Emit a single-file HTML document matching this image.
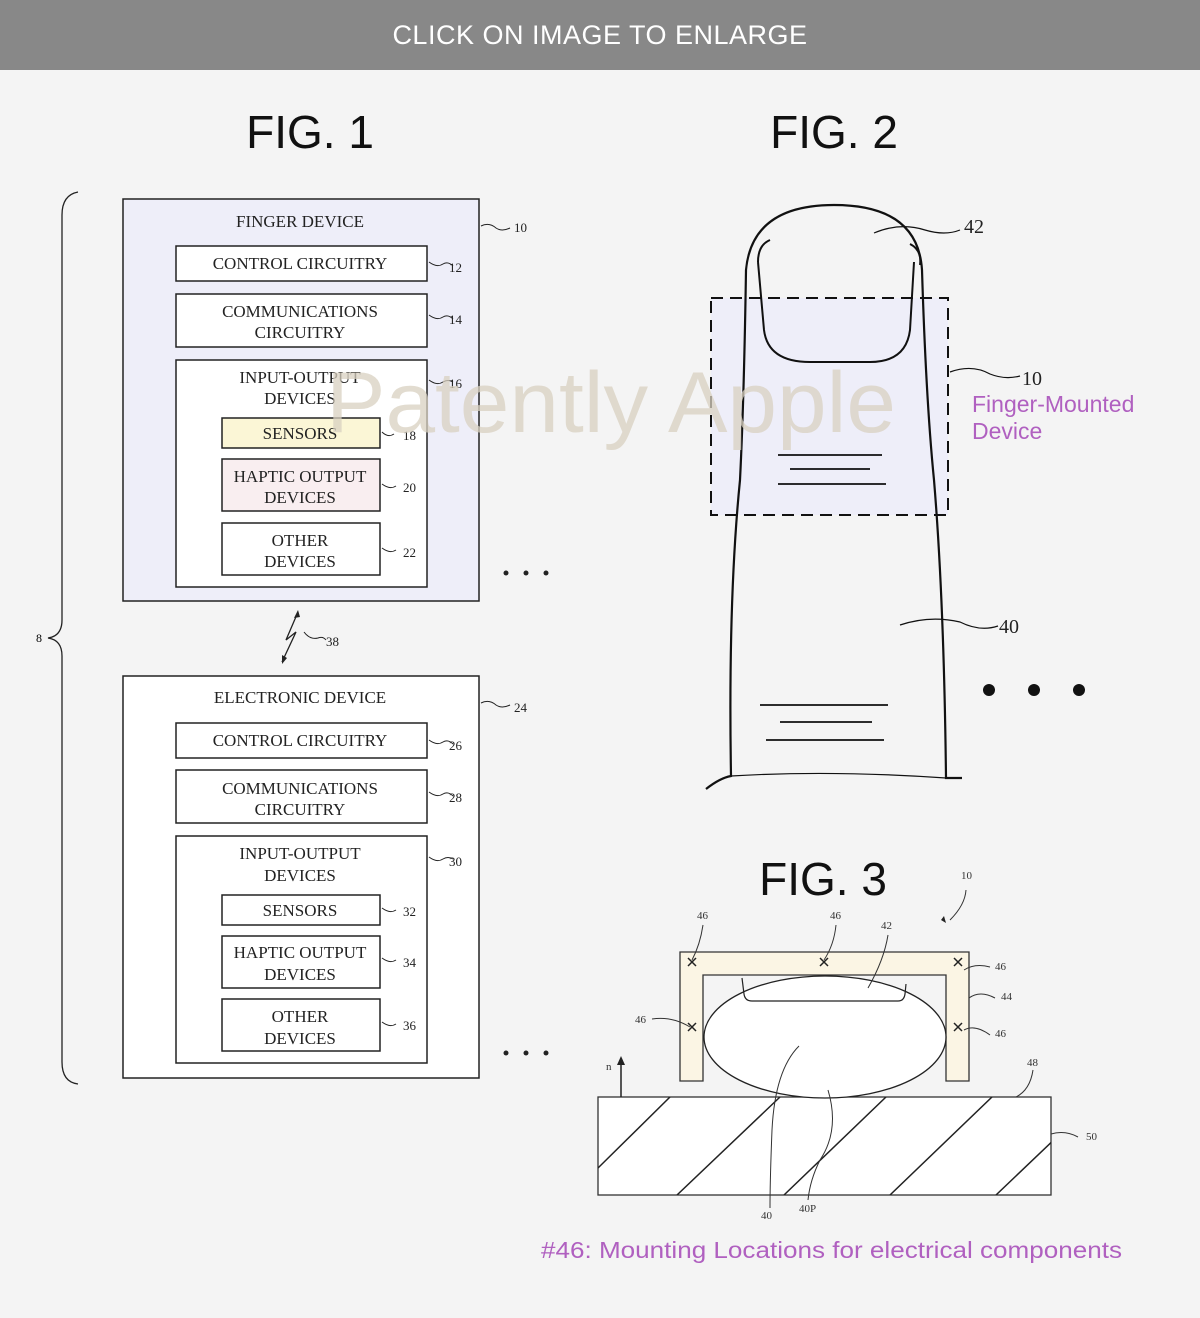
<!DOCTYPE html>
<html><head><meta charset="utf-8"><style>
body{margin:0;background:#f4f4f4;}
svg{display:block}
</style></head><body>
<svg width="1200" height="1318" viewBox="0 0 1200 1318" xmlns="http://www.w3.org/2000/svg" font-family="Liberation Serif, serif">
<rect width="1200" height="1318" fill="#f4f4f4"/>
<rect width="1200" height="70" fill="#888888"/>
<text x="600" y="44" text-anchor="middle" font-family="Liberation Sans, sans-serif" font-size="27" fill="#fff" letter-spacing="0.5">CLICK ON IMAGE TO ENLARGE</text>
<g font-family="Liberation Sans, sans-serif" font-size="46" fill="#111" text-anchor="middle">
<text x="310" y="148">FIG. 1</text><text x="834" y="148">FIG. 2</text><text x="823" y="895">FIG. 3</text></g>

<path d="M78,192 Q62,195 62,215 L62,620 Q62,636 48,638 Q62,640 62,656 L62,1062 Q62,1082 78,1084" fill="none" stroke="#222" stroke-width="1.3"/>
<text x="36" y="642" font-size="12">8</text>

<g stroke="#222" stroke-width="1.5" fill="#fff">
<rect x="123" y="199" width="356" height="402" fill="#eeeef9"/>
<rect x="176" y="246" width="251" height="35"/>
<rect x="176" y="294" width="251" height="53"/>
<rect x="176" y="360" width="251" height="227"/>
<rect x="222" y="418" width="158" height="30" fill="#fbf6d6"/>
<rect x="222" y="459" width="158" height="52" fill="#f9eef0"/>
<rect x="222" y="523" width="158" height="52"/>
<rect x="123" y="676" width="356" height="402"/>
<rect x="176" y="723" width="251" height="35"/>
<rect x="176" y="770" width="251" height="53"/>
<rect x="176" y="836" width="251" height="227"/>
<rect x="222" y="895" width="158" height="30"/>
<rect x="222" y="936" width="158" height="52"/>
<rect x="222" y="999" width="158" height="52"/>
</g>
<g font-size="17" fill="#222" text-anchor="middle">
<text x="300" y="227">FINGER DEVICE</text>
<text x="300" y="269">CONTROL CIRCUITRY</text>
<text x="300" y="317">COMMUNICATIONS</text><text x="300" y="338">CIRCUITRY</text>
<text x="300" y="383">INPUT-OUTPUT</text><text x="300" y="404">DEVICES</text>
<text x="300" y="439">SENSORS</text>
<text x="300" y="482">HAPTIC OUTPUT</text><text x="300" y="503">DEVICES</text>
<text x="300" y="546">OTHER</text><text x="300" y="567">DEVICES</text>
<text x="300" y="703">ELECTRONIC DEVICE</text>
<text x="300" y="746">CONTROL CIRCUITRY</text>
<text x="300" y="794">COMMUNICATIONS</text><text x="300" y="815">CIRCUITRY</text>
<text x="300" y="859">INPUT-OUTPUT</text><text x="300" y="881">DEVICES</text>
<text x="300" y="916">SENSORS</text>
<text x="300" y="958">HAPTIC OUTPUT</text><text x="300" y="980">DEVICES</text>
<text x="300" y="1022">OTHER</text><text x="300" y="1044">DEVICES</text>
</g>
<g fill="none" stroke="#222" stroke-width="1">
<path d="M481,226 q8,-4 15,2 q6,4 14,0"/><path d="M429,262 q8,6 14,2 q5,-3 10,2"/>
<path d="M429,315 q8,6 14,2 q5,-3 10,2"/><path d="M429,380 q8,6 14,2 q5,-3 10,0"/>
<path d="M382,432 q6,6 12,2"/><path d="M382,484 q8,6 14,2"/><path d="M382,548 q8,6 14,2"/>
<path d="M481,703 q8,-4 15,2 q6,4 14,0"/><path d="M429,740 q8,6 14,2 q5,-3 10,2"/>
<path d="M429,792 q8,6 14,2 q5,-3 10,2"/><path d="M429,857 q8,6 14,2 q5,-3 10,0"/>
<path d="M382,908 q8,6 14,2"/><path d="M382,958 q8,6 14,2"/><path d="M382,1022 q8,6 14,2"/>
<path d="M298,612 L286,640 L296,632 L282,662" stroke-width="1.3"/>
<path d="M304,632 q6,8 14,6 q5,-2 8,2"/>
</g>
<path d="M298,610 l-4,8 l6,-1z M282,664 l0,-9 l5,3z" fill="#222"/>
<g font-size="13" fill="#222">
<text x="514" y="232">10</text><text x="449" y="272">12</text><text x="449" y="324">14</text>
<text x="449" y="388">16</text><text x="403" y="440">18</text><text x="403" y="492">20</text><text x="403" y="557">22</text>
<text x="326" y="646">38</text>
<text x="514" y="712">24</text><text x="449" y="750">26</text><text x="449" y="802">28</text><text x="449" y="866">30</text>
<text x="403" y="916">32</text><text x="403" y="967">34</text><text x="403" y="1030">36</text>
</g>
<g fill="#222"><circle cx="506" cy="573" r="2.5"/><circle cx="526" cy="573" r="2.5"/><circle cx="546" cy="573" r="2.5"/>
<circle cx="506" cy="1053" r="2.5"/><circle cx="526" cy="1053" r="2.5"/><circle cx="546" cy="1053" r="2.5"/></g>

<!-- FIG 2 -->
<rect x="711" y="298" width="237" height="217" fill="#eeeef9"/>
<path d="M706,789 Q720,778 731,776 Q728,600 740,480 Q744,400 746,270 Q752,205 834,205 Q918,205 922,270 Q926,400 934,480 Q944,600 946,778 Q955,778 962,778" fill="none" stroke="#111" stroke-width="2.2"/>
<path d="M758,262 Q758,245 770,240 M910,244 Q922,250 920,265" fill="none" stroke="#111" stroke-width="2"/>
<path d="M758,262 L764,330 Q768,362 810,362 L870,362 Q906,362 910,330 L914,262" fill="none" stroke="#111" stroke-width="2"/>
<path d="M731,776 Q830,770 946,778" fill="none" stroke="#111" stroke-width="1.2"/>
<rect x="711" y="298" width="237" height="217" fill="none" stroke="#111" stroke-width="2" stroke-dasharray="12,7"/>
<g stroke="#111" stroke-width="1.8" fill="none">
<path d="M778,455 L882,455"/><path d="M790,469 L870,469"/><path d="M778,484 L886,484"/>
<path d="M760,705 L888,705"/><path d="M780,722 L872,722"/><path d="M766,740 L884,740"/>
<path d="M874,233 Q900,222 925,230 Q945,236 960,230" stroke-width="1.2"/>
<path d="M950,372 Q972,364 990,374 Q1005,380 1020,376" stroke-width="1.2"/>
<path d="M900,625 Q930,615 960,622 Q980,632 998,626" stroke-width="1.2"/>
</g>
<g font-size="20" fill="#222"><text x="964" y="233">42</text><text x="1022" y="385">10</text><text x="999" y="633">40</text></g>
<g fill="#111"><circle cx="989" cy="690" r="6"/><circle cx="1034" cy="690" r="6"/><circle cx="1079" cy="690" r="6"/></g>
<g font-family="Liberation Sans, sans-serif" font-size="23" fill="#b060c0"><text x="972" y="412">Finger-Mounted</text><text x="972" y="439">Device</text></g>
<text x="611" y="432" text-anchor="middle" font-family="Liberation Sans, sans-serif" font-size="86" fill="#d8d0c0" fill-opacity="0.75" textLength="570" lengthAdjust="spacingAndGlyphs">Patently Apple</text>

<!-- FIG 3 -->
<path d="M680,952 L969,952 L969,1081 L946,1081 L946,975 L703,975 L703,1081 L680,1081 Z" fill="#fbf5e4" stroke="#333" stroke-width="1.3"/>
<rect x="598" y="1097" width="453" height="98" fill="#fff" stroke="#333" stroke-width="1.3"/>
<clipPath id="c"><rect x="598" y="1097" width="453" height="98"/></clipPath>
<g clip-path="url(#c)" stroke="#222" stroke-width="1.5">
<line x1="598" y1="1168" x2="670" y2="1097"/><line x1="677" y1="1195" x2="780" y2="1097"/>
<line x1="784" y1="1195" x2="886" y2="1097"/><line x1="890" y1="1195" x2="992" y2="1097"/>
<line x1="996" y1="1195" x2="1060" y2="1134"/></g>
<ellipse cx="825" cy="1037" rx="121" ry="61" fill="#fff" stroke="#222" stroke-width="1.3"/>
<path d="M742,978 L744,994 Q745,1001 752,1001 L898,1001 Q904,1001 905,994 L906,984" fill="none" stroke="#222" stroke-width="1.2"/>
<g stroke="#222" stroke-width="1.5"><path d="M688,958 l8,8 M696,958 l-8,8 M820,958 l8,8 M828,958 l-8,8 M954,958 l8,8 M962,958 l-8,8 M688,1023 l8,8 M696,1023 l-8,8 M954,1023 l8,8 M962,1023 l-8,8"/>
<line x1="621" y1="1097" x2="621" y2="1062"/></g>
<path d="M621,1056 l-4,9 l8,0z" fill="#222"/>
<g fill="none" stroke="#333" stroke-width="1">
<path d="M703,925 Q700,945 692,960"/><path d="M836,925 Q834,945 824,960"/><path d="M888,935 Q884,960 868,988"/>
<path d="M964,970 Q975,963 990,967"/><path d="M969,998 Q980,990 995,998"/><path d="M964,1030 Q975,1024 990,1035"/>
<path d="M652,1019 Q672,1016 690,1027"/><path d="M1016,1097 Q1030,1090 1033,1070"/><path d="M1051,1134 Q1065,1130 1078,1137"/>
<path d="M799,1046 Q775,1070 772,1130 Q770,1180 770,1208"/><path d="M828,1090 Q840,1130 820,1160 Q810,1180 808,1200"/>
<path d="M966,890 Q965,905 950,920"/></g>
<path d="M946,923 l-5,-3 l3,-4z" fill="#222"/>
<g font-size="11" fill="#333">
<text x="697" y="919">46</text><text x="830" y="919">46</text><text x="881" y="929">42</text><text x="961" y="879">10</text>
<text x="995" y="970">46</text><text x="1001" y="1000">44</text><text x="995" y="1037">46</text><text x="635" y="1023">46</text>
<text x="1027" y="1066">48</text><text x="1086" y="1140">50</text><text x="606" y="1070">n</text>
<text x="761" y="1219">40</text><text x="799" y="1212">40P</text></g>
<text x="541" y="1258" font-family="Liberation Sans, sans-serif" font-size="23" fill="#b060c0" textLength="581" lengthAdjust="spacingAndGlyphs">#46: Mounting Locations for electrical components</text>
</svg>
</body></html>
